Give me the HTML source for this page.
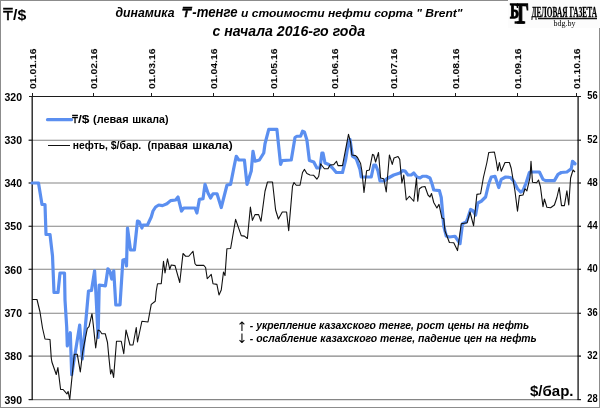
<!DOCTYPE html>
<html lang="ru"><head><meta charset="utf-8"><title>динамика ₸-тенге и стоимости нефти сорта Brent</title>
<style>
html,body{margin:0;padding:0;background:#fff;}
body{width:600px;height:408px;overflow:hidden;font-family:"Liberation Sans","DejaVu Sans",sans-serif;}
svg{display:block;}
text{will-change:opacity;}
text{font-family:"Liberation Sans","DejaVu Sans",sans-serif;fill:#000;}
.b{font-weight:bold;}
.bi{font-weight:bold;font-style:italic;}
</style></head><body>
<svg width="600" height="408" viewBox="0 0 600 408">
<rect x="0" y="0" width="600" height="408" fill="#ffffff"/>
<rect x="0.5" y="0.5" width="599" height="407" fill="none" stroke="#8c8c8c" stroke-width="1"/>

<g stroke="#858585" stroke-width="1.1">
<line x1="29" y1="140.2" x2="581" y2="140.2"/>
<line x1="29" y1="183.0" x2="581" y2="183.0"/>
<line x1="29" y1="226.3" x2="581" y2="226.3"/>
<line x1="29" y1="269.3" x2="581" y2="269.3"/>
<line x1="29" y1="313.3" x2="581" y2="313.3"/>
<line x1="29" y1="356.1" x2="581" y2="356.1"/>
<line x1="29" y1="399.6" x2="581" y2="399.6"/>
</g>
<g stroke="#1c1c1c" stroke-width="1" shape-rendering="crispEdges">
<line x1="29" y1="96.5" x2="581" y2="96.5"/>
<line x1="32.2" y1="96" x2="32.2" y2="400" stroke-width="1.35" shape-rendering="auto"/>
<line x1="578.1" y1="96" x2="578.1" y2="400" stroke-width="1.35" shape-rendering="auto"/>
<line x1="32.5" y1="93" x2="32.5" y2="97"/>
<line x1="93.5" y1="93" x2="93.5" y2="97"/>
<line x1="151.5" y1="93" x2="151.5" y2="97"/>
<line x1="213.5" y1="93" x2="213.5" y2="97"/>
<line x1="273.5" y1="93" x2="273.5" y2="97"/>
<line x1="334.5" y1="93" x2="334.5" y2="97"/>
<line x1="393.5" y1="93" x2="393.5" y2="97"/>
<line x1="455.5" y1="93" x2="455.5" y2="97"/>
<line x1="517.5" y1="93" x2="517.5" y2="97"/>
<line x1="576.5" y1="93" x2="576.5" y2="97"/>
<line x1="28.5" y1="140.2" x2="33" y2="140.2" shape-rendering="auto"/>
<line x1="577.5" y1="140.2" x2="581" y2="140.2" shape-rendering="auto"/>
<line x1="28.5" y1="183.0" x2="33" y2="183.0" shape-rendering="auto"/>
<line x1="577.5" y1="183.0" x2="581" y2="183.0" shape-rendering="auto"/>
<line x1="28.5" y1="226.3" x2="33" y2="226.3" shape-rendering="auto"/>
<line x1="577.5" y1="226.3" x2="581" y2="226.3" shape-rendering="auto"/>
<line x1="28.5" y1="269.3" x2="33" y2="269.3" shape-rendering="auto"/>
<line x1="577.5" y1="269.3" x2="581" y2="269.3" shape-rendering="auto"/>
<line x1="28.5" y1="313.3" x2="33" y2="313.3" shape-rendering="auto"/>
<line x1="577.5" y1="313.3" x2="581" y2="313.3" shape-rendering="auto"/>
<line x1="28.5" y1="356.1" x2="33" y2="356.1" shape-rendering="auto"/>
<line x1="577.5" y1="356.1" x2="581" y2="356.1" shape-rendering="auto"/>
<line x1="28.5" y1="399.6" x2="33" y2="399.6" shape-rendering="auto"/>
<line x1="577.5" y1="399.6" x2="581" y2="399.6" shape-rendering="auto"/>
</g>
<polyline fill="none" stroke="#5b8ff0" stroke-width="3.2" stroke-linejoin="round" stroke-linecap="round" points="32,183 38.5,183 42,204.5 45,204.5 46,234.5 50,234.5 52.5,256 54,292.5 58,292.5 60,273 64.5,273 65,300 66.7,327 67.3,346 70.3,332.7 71.7,374.7 79.7,325 82.3,359 85.3,327 88.5,291 91.5,290.5 94.6,270.8 96,295 98.1,337.5 99.2,285 105.4,285.8 107.9,268.75 110,271.7 111.7,279 113.75,270.8 115.8,305 120,305 122.9,260 125.4,259.4 126.5,266 127.5,228 130.5,250 134.4,250 137.5,221 139.4,222 141.9,228 143,225 147.5,225 151.25,217 153,211 155.6,207 158.75,205 162.5,205.6 166.9,203.75 170.6,200.6 175.6,200 178,197 181.5,211 183.75,208 195,208 196.9,213 199.4,199.4 203,198.75 205,184.4 208,193 210.6,198 213,193.75 217,193.75 221.25,207.5 227,185 230.6,184.4 234.4,165 236.25,156.25 238.75,160 244.4,160 247,184.4 251.25,171 253,151.25 255,161.25 259.4,160 263.75,153 265,143.75 268.75,129.4 276.9,129.4 280.6,164.4 282,160.6 290.6,160 291.25,160 295,137.5 296.9,136.25 300.6,136.25 302.5,131.25 304.4,132 306.9,140 309.4,160.6 313.75,162 316.9,168 320,168 321.9,153 323,153 325,163 328.75,164.4 332.5,168 336.25,172.5 342.5,172.5 345.6,160 348.75,140.6 350,139.4 352.5,156.25 356.25,158.75 360,169.4 361.25,177 371.25,177 373.75,165 375.6,165 378,171 380,181 384.4,181 386.9,178.75 393.75,175 400,173 402.5,170.6 405,171 408,175 411.25,175 413.75,173 416.9,177 420,178 422.5,176.25 426.25,176.25 430,178 432,183.75 433.75,190 439.4,190.6 441.25,197.5 443.75,226 446.25,236 449.4,237 455,236.25 458,240.6 460,243.75 462.5,223.75 466.25,222 468,217.5 470.6,209.4 473,210.6 475.6,215 477.8,203 481.25,201.25 485.6,197 488.75,183.75 491.25,177 495,176.25 498.75,187.5 501.25,179.4 505.6,177 510.6,177.5 513.75,181.25 517.5,188.75 520.6,192 523,190.6 526.25,182.5 529.4,172.5 530.6,172 539.4,172 543,179.4 545.6,180.6 554.4,180.6 558,174.4 561.25,172.5 566.9,172 571.25,168.75 572.5,161.25 575,163.75"/>
<polyline fill="none" stroke="#111111" stroke-width="1.1" stroke-linejoin="round" points="32,299.5 37,299.5 40,312 42.5,328 45,339 50,339.5 51.25,358 51.9,362 56.25,374.5 57.9,367.6 60.6,389.5 63.1,389.5 66.9,393.9 68.1,391.4 69.75,399.5 74.3,354.3 77.3,354.3 80.3,372 82.7,352 87.3,328.3 89,326.7 92,313.7 93.3,325 95.7,348 98,330 100,331 101.9,333.75 105.25,333.75 107.5,342.5 108.75,356 110.6,374 111.9,369.5 113.6,377.5 116.5,341.25 121.25,341.25 123.75,353.75 126,330 130,345 133,345 136.25,327.5 137.5,342 141.9,321.25 148,322 151.25,304.4 155.25,301.25 156.25,291 157.5,283.75 161.25,283.75 163.5,261.25 165,273 167.5,258.75 169.75,269.4 171.25,265 175,265.6 179.75,282.5 183,253.5 185.6,256.25 188.75,256.25 193,251.25 195,263.75 196.5,265.4 203.75,265.4 205.6,267.5 207.25,278.75 211.25,274.4 213,283.75 216.9,284.4 219,295 221.25,290 223.5,272 225,275.6 226.9,248.75 230.6,248.5 235.6,219.4 241.25,235.6 244.4,236.1 247.4,238.5 250.4,207 252.4,220.4 255,214.6 258.6,214.6 261,221.25 265,191.25 267.5,182 272.5,182 275.6,210 278.4,219 282.3,212 286.6,212 288.7,230.6 292.5,186.25 294,182.5 296.25,185.25 300,185.25 302.5,172.5 304.5,169.4 306.9,173.6 310,175 313.5,175.2 316.9,179.2 318.75,176.25 320.6,163.75 324.4,168.75 328,168.75 330,165 333.75,164.6 336.5,161.25 338,165.6 342.5,165.6 348.5,134.4 350.6,142.5 351.9,155 355.6,155.6 357.5,157.5 360.6,163.5 361.9,171 364,192.5 366.6,170.8 369.4,170 372.5,154.4 373.75,155 375.6,162 378.5,152.5 380.6,178 383.75,178.75 386.25,192 389.4,155 392.25,164.4 394,158 398,156.5 399.75,159.4 401.9,183 403.75,175 406.25,200 409.4,196.25 413.75,201.25 416.5,178 417.75,201.25 419.4,188.75 421.9,187 425,186.5 428,195 430,197 431.5,193.5 433.75,202.5 436.9,208 439,204.4 441.9,218 443.75,218.75 445,231 449.4,242.5 453.75,242.75 457.5,250.6 461.25,223.75 467.2,222.7 470,212 473.6,225.8 476.9,194.4 480.6,193.75 483.4,177.5 486.9,162.5 488.75,152.5 494.4,152 496.25,161.25 497.75,170.6 499.4,162.5 501.25,171.25 505,162.5 509.4,162.5 511.25,168.5 515,191.25 517.5,211.25 519.4,195.6 523,195 525,188.75 526.9,190.8 528.75,182.8 530,177.5 531,161.25 532.5,182.3 536.6,182.7 538.5,180 540.4,186.5 543,206.6 544.4,199 546.9,207.3 550.6,207.7 554.4,205 556.9,197.5 559.2,187.5 561.5,205.6 564.4,205.6 566.9,190.8 568.75,205 570.6,178 573,170 575,172"/>
<line x1="47.5" y1="119.7" x2="71.5" y2="119.7" stroke="#5b8ff0" stroke-width="3.2" stroke-linecap="round"/>
<line x1="47.5" y1="145.5" x2="69.5" y2="145.5" stroke="#111" stroke-width="1" shape-rendering="crispEdges"/>
<text x="72.2" y="123" font-size="10.4" textLength="5.6" lengthAdjust="spacingAndGlyphs" stroke="#000" stroke-width="0.45">₸</text>
<text class="b" x="78.0" y="123.2" font-size="11.8" textLength="11.5" lengthAdjust="spacingAndGlyphs">/$</text>
<text class="b" x="93.0" y="123.2" font-size="11.8" textLength="35.6" lengthAdjust="spacingAndGlyphs">(левая</text>
<text class="b" x="132.2" y="123.2" font-size="11.8" textLength="36.4" lengthAdjust="spacingAndGlyphs">шкала)</text>
<text class="b" x="72.8" y="149.1" font-size="11.8" textLength="35.2" lengthAdjust="spacingAndGlyphs">нефть,</text>
<text class="b" x="110.7" y="149.1" font-size="11.8" textLength="30.6" lengthAdjust="spacingAndGlyphs">$/бар.</text>
<text class="b" x="147.6" y="149.1" font-size="11.8" textLength="40.2" lengthAdjust="spacingAndGlyphs">(правая</text>
<text class="b" x="192.3" y="149.1" font-size="11.8" textLength="40.3" lengthAdjust="spacingAndGlyphs">шкала)</text>
<text class="b" x="4.5" y="100.5" font-size="10" textLength="17.5" lengthAdjust="spacingAndGlyphs">320</text>
<text class="b" x="4.5" y="143.8" font-size="10" textLength="17.5" lengthAdjust="spacingAndGlyphs">330</text>
<text class="b" x="4.5" y="187.1" font-size="10" textLength="17.5" lengthAdjust="spacingAndGlyphs">340</text>
<text class="b" x="4.5" y="230.3" font-size="10" textLength="17.5" lengthAdjust="spacingAndGlyphs">350</text>
<text class="b" x="4.5" y="273.6" font-size="10" textLength="17.5" lengthAdjust="spacingAndGlyphs">360</text>
<text class="b" x="4.5" y="316.9" font-size="10" textLength="17.5" lengthAdjust="spacingAndGlyphs">370</text>
<text class="b" x="4.5" y="360.2" font-size="10" textLength="17.5" lengthAdjust="spacingAndGlyphs">380</text>
<text class="b" x="4.5" y="403.5" font-size="10" textLength="17.5" lengthAdjust="spacingAndGlyphs">390</text>
<text class="b" x="587.2" y="99.4" font-size="10" textLength="10.4" lengthAdjust="spacingAndGlyphs">56</text>
<text class="b" x="587.2" y="142.6" font-size="10" textLength="10.4" lengthAdjust="spacingAndGlyphs">52</text>
<text class="b" x="587.2" y="185.9" font-size="10" textLength="10.4" lengthAdjust="spacingAndGlyphs">48</text>
<text class="b" x="587.2" y="229.1" font-size="10" textLength="10.4" lengthAdjust="spacingAndGlyphs">44</text>
<text class="b" x="587.2" y="272.3" font-size="10" textLength="10.4" lengthAdjust="spacingAndGlyphs">40</text>
<text class="b" x="587.2" y="315.5" font-size="10" textLength="10.4" lengthAdjust="spacingAndGlyphs">36</text>
<text class="b" x="587.2" y="358.8" font-size="10" textLength="10.4" lengthAdjust="spacingAndGlyphs">32</text>
<text class="b" x="587.2" y="402.0" font-size="10" textLength="10.4" lengthAdjust="spacingAndGlyphs">28</text>
<text class="b" transform="translate(36.1,89) rotate(-90)" font-size="9.5" textLength="40.5" lengthAdjust="spacingAndGlyphs">01.01.16</text>
<text class="b" transform="translate(97.1,89) rotate(-90)" font-size="9.5" textLength="40.5" lengthAdjust="spacingAndGlyphs">01.02.16</text>
<text class="b" transform="translate(155.1,89) rotate(-90)" font-size="9.5" textLength="40.5" lengthAdjust="spacingAndGlyphs">01.03.16</text>
<text class="b" transform="translate(217.1,89) rotate(-90)" font-size="9.5" textLength="40.5" lengthAdjust="spacingAndGlyphs">01.04.16</text>
<text class="b" transform="translate(277.1,89) rotate(-90)" font-size="9.5" textLength="40.5" lengthAdjust="spacingAndGlyphs">01.05.16</text>
<text class="b" transform="translate(338.1,89) rotate(-90)" font-size="9.5" textLength="40.5" lengthAdjust="spacingAndGlyphs">01.06.16</text>
<text class="b" transform="translate(397.1,89) rotate(-90)" font-size="9.5" textLength="40.5" lengthAdjust="spacingAndGlyphs">01.07.16</text>
<text class="b" transform="translate(459.1,89) rotate(-90)" font-size="9.5" textLength="40.5" lengthAdjust="spacingAndGlyphs">01.08.16</text>
<text class="b" transform="translate(521.1,89) rotate(-90)" font-size="9.5" textLength="40.5" lengthAdjust="spacingAndGlyphs">01.09.16</text>
<text class="b" transform="translate(580.1,89) rotate(-90)" font-size="9.5" textLength="40.5" lengthAdjust="spacingAndGlyphs">01.10.16</text>
<text x="3.2" y="19.5" font-size="15" textLength="9.4" lengthAdjust="spacingAndGlyphs" stroke="#000" stroke-width="0.55">₸</text>
<text class="b" x="13" y="19.5" font-size="15.5" textLength="13.2" lengthAdjust="spacingAndGlyphs">/$</text>
<text class="bi" x="115.5" y="16.5" font-size="12.5" textLength="59" lengthAdjust="spacingAndGlyphs">динамика</text>
<text x="182" y="17" font-size="13.8" font-style="italic" textLength="9.2" lengthAdjust="spacingAndGlyphs" stroke="#000" stroke-width="0.5">₸</text>
<text class="bi" x="192.3" y="17" font-size="14.5" textLength="45.2" lengthAdjust="spacingAndGlyphs">-тенге</text>
<text class="bi" x="241" y="16.5" font-size="10.8" textLength="221.5" lengthAdjust="spacingAndGlyphs">и стоимости нефти сорта  " Brent"</text>
<text class="bi" x="212.5" y="36.3" font-size="15.5" textLength="152.5" lengthAdjust="spacingAndGlyphs">с начала 2016-го года</text>
<text x="236.5" y="330.5" font-size="13" style="font-family:'DejaVu Sans',sans-serif">↑</text>
<text class="bi" x="249.8" y="329.3" font-size="10.8" textLength="279.5" lengthAdjust="spacingAndGlyphs">- укрепление казахского тенге, рост цены на нефть</text>
<text x="236.5" y="343" font-size="13" style="font-family:'DejaVu Sans',sans-serif">↓</text>
<text class="bi" x="249.8" y="341.8" font-size="10.8" textLength="287" lengthAdjust="spacingAndGlyphs">- ослабление  казахского тенге, падение цен на нефть</text>
<text class="b" x="530" y="395.5" font-size="14.5" textLength="43.5" lengthAdjust="spacingAndGlyphs">$/бар.</text>
<rect x="508" y="0" width="92" height="28" fill="#fcfcfc"/>
<text x="510" y="17.6" font-weight="bold" font-size="22" textLength="9" lengthAdjust="spacingAndGlyphs" stroke="#000" stroke-width="1.3" style="font-family:'Liberation Serif',serif">Б</text>
<rect x="514.6" y="21.3" width="10.6" height="2.4" fill="#000"/>
<text x="517.2" y="23.4" font-weight="bold" font-size="29.3" textLength="11.6" lengthAdjust="spacingAndGlyphs" stroke="#000" stroke-width="1.4" style="font-family:'Liberation Serif',serif">Г</text>
<text x="531.5" y="16.6" font-weight="bold" font-size="13.8" textLength="65.5" lengthAdjust="spacingAndGlyphs" stroke="#000" stroke-width="0.3" style="font-family:'Liberation Serif',serif">ДЕЛОВАЯ ГАЗЕТА</text>
<line x1="538" y1="18.5" x2="597" y2="18.5" stroke="#111" stroke-width="1.4"/>
<text x="553.5" y="25.6" font-size="7.8" textLength="22" lengthAdjust="spacingAndGlyphs" style="font-family:'Liberation Serif',serif">bdg.by</text>
</svg></body></html>
